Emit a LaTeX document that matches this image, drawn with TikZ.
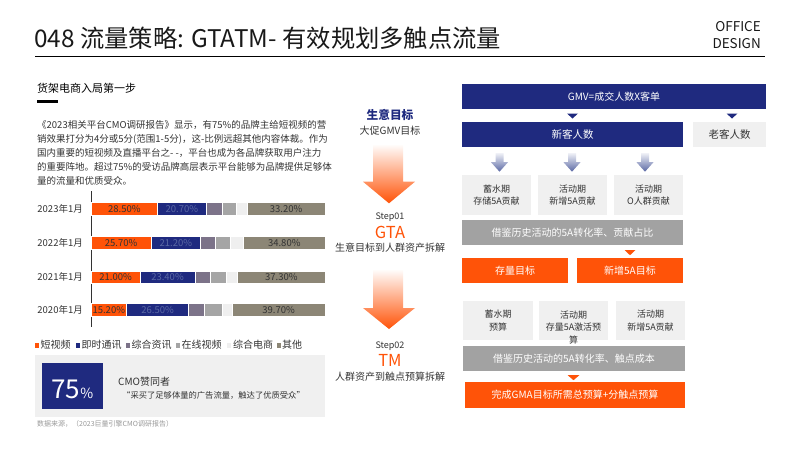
\documentclass[tikz,border=0pt]{standalone}
\usepackage{fontspec}
\setmainfont{Noto Sans CJK SC}
\usetikzlibrary{positioning}
\usetikzlibrary{calc}

\definecolor{gtnavy}{HTML}{1F2A7F}
\definecolor{gtorange}{HTML}{FF5308}
\definecolor{boxgray}{HTML}{F0F0F0}
\definecolor{bargray}{HTML}{A2A2A2}
\definecolor{zhgray}{HTML}{7C7389}
\definecolor{zxgray}{HTML}{A5A5A5}
\definecolor{dsgray}{HTML}{EFEFEF}
\definecolor{qtgray}{HTML}{8C8676}
\definecolor{slate}{HTML}{5A68A4}
\definecolor{inktext}{HTML}{333333}

\begin{document}
\begin{tikzpicture}[x=1pt, y=-1pt,
  navybox/.style={fill=gtnavy, text=white, inner sep=0, font=\fontsize{10}{12}\selectfont},
  graybox/.style={fill=boxgray, text=inktext, inner sep=0, align=center, font=\fontsize{9}{12.5}\selectfont},
  refbar/.style={fill=bargray, text=white, inner sep=0, font=\fontsize{10}{12}\selectfont},
  orangebox/.style={fill=gtorange, text=white, inner sep=0, font=\fontsize{10}{12}\selectfont},
  seg/.style={draw=white, line width=0.6pt},
  barlbl/.style={inner sep=0, text=black!80, font=\fontsize{9.5}{11}\selectfont},
  yearlbl/.style={anchor=east, inner sep=0, text=inktext, font=\fontsize{9.5}{11}\selectfont},
  leg/.style={anchor=west, inner sep=0, text=inktext, font=\fontsize{10}{12}\selectfont},
  midtxt/.style={inner sep=0, text=inktext, font=\fontsize{10}{12}\selectfont}]
\useasboundingbox (0,0) rectangle (800,450);

%title
\node[anchor=west, inner sep=0, font=\fontsize{24.3}{30}\selectfont, text=black!90] (title) at (34,38) {048 流量策略: GTATM- 有效规划多触点流量};
\node[anchor=east, align=right, inner sep=0, font=\fontsize{13.5}{16.5}\selectfont, text=black!90] (brand) at (761,35) {OFFICE\\DESIGN};
\draw[black, line width=1.5pt] (35,56.5) -- (765,56.5);

%left text
\node[anchor=west, inner sep=0, font=\fontsize{11}{13}\selectfont] (sect) at (37,88) {货架电商入局第一步};
\fill[black] (37,100) rectangle (58,102.5);
\node[anchor=north west, inner sep=0, align=left, text=inktext, font=\fontsize{9.5}{14}\selectfont] (para) at (37,120) {《2023相关平台CMO调研报告》显示，有75\%的品牌主给短视频的营\\销效果打分为4分或5分(范围1-5分)，这-比例远超其他内容体裁。作为\\国内重要的短视频及直播平台之-  -，平台也成为各品牌获取用户注力\\的重要阵地。超过75\%的受访品牌高层表示平台能够为品牌提供足够体\\量的流量和优质受众。};

%chart axis and years
\draw[black!80, line width=0.8pt] (91,191) -- (91,327);
\node[yearlbl] (y23) at (83,209) {2023年1月};
\node[yearlbl] (y22) at (83,243) {2022年1月};
\node[yearlbl] (y21) at (83,277.3) {2021年1月};
\node[yearlbl] (y20) at (83,310) {2020年1月};

%bars
\begin{scope}[shift={(91,0)}, x=2.34pt]
%2023
\fill[gtorange, seg] (0,202.7) rectangle (28.5,215.3);
\fill[gtnavy, seg] (28.5,202.7) rectangle (49.2,215.3);
\fill[zhgray, seg] (49.2,202.7) rectangle (56,215.3);
\fill[zxgray, seg] (56,202.7) rectangle (62.3,215.3);
\fill[dsgray, seg] (62.3,202.7) rectangle (66.8,215.3);
\fill[qtgray, seg] (66.8,202.7) rectangle (100,215.3);
\node[barlbl] (o23) at (14.25,209) {28.50\%};
\node[barlbl, text=slate] (n23) at (38.85,209) {20.70\%};
\node[barlbl] (k23) at (83.4,209) {33.20\%};
%2022
\fill[gtorange, seg] (0,236.7) rectangle (25.7,249.3);
\fill[gtnavy, seg] (25.7,236.7) rectangle (46.9,249.3);
\fill[zhgray, seg] (46.9,236.7) rectangle (53.3,249.3);
\fill[zxgray, seg] (53.3,236.7) rectangle (59.7,249.3);
\fill[dsgray, seg] (59.7,236.7) rectangle (65.2,249.3);
\fill[qtgray, seg] (65.2,236.7) rectangle (100,249.3);
\node[barlbl] (o22) at (12.85,243) {25.70\%};
\node[barlbl, text=slate] (n22) at (36.3,243) {21.20\%};
\node[barlbl] (k22) at (82.6,243) {34.80\%};
%2021
\fill[gtorange, seg] (0,271) rectangle (21,283.6);
\fill[gtnavy, seg] (21,271) rectangle (44.4,283.6);
\fill[zhgray, seg] (44.4,271) rectangle (51,283.6);
\fill[zxgray, seg] (51,271) rectangle (57.7,283.6);
\fill[dsgray, seg] (57.7,271) rectangle (62.7,283.6);
\fill[qtgray, seg] (62.7,271) rectangle (100,283.6);
\node[barlbl] (o21) at (10.5,277.3) {21.00\%};
\node[barlbl, text=slate] (n21) at (32.7,277.3) {23.40\%};
\node[barlbl] (k21) at (81.35,277.3) {37.30\%};
%2020
\fill[gtorange, seg] (0,303.7) rectangle (15.2,316.3);
\fill[gtnavy, seg] (15.2,303.7) rectangle (41.7,316.3);
\fill[zhgray, seg] (41.7,303.7) rectangle (48.5,316.3);
\fill[zxgray, seg] (48.5,303.7) rectangle (56.2,316.3);
\fill[dsgray, seg] (56.2,303.7) rectangle (60.3,316.3);
\fill[qtgray, seg] (60.3,303.7) rectangle (100,316.3);
\node[barlbl] (o20) at (7.6,310) {15.20\%};
\node[barlbl, text=slate] (n20) at (28.45,310) {26.50\%};
\node[barlbl] (k20) at (80.2,310) {39.70\%};
\end{scope}

%legend
\fill[gtorange] (35,343) rectangle (39,347.5);
\node[leg] (l1) at (40.5,345) {短视频};
\fill[gtnavy] (76,343) rectangle (80,347.5);
\node[leg] (l2) at (81.5,345) {即时通讯};
\fill[zhgray] (126,343) rectangle (130,347.5);
\node[leg] (l3) at (131.5,345) {综合资讯};
\fill[zxgray] (176,343) rectangle (180,347.5);
\node[leg] (l4) at (181.5,345) {在线视频};
\fill[dsgray] (227,343) rectangle (231,347.5);
\node[leg] (l5) at (233,345) {综合电商};
\fill[qtgray] (277,343) rectangle (281,347.5);
\node[leg] (l6) at (282,345) {其他};

%cmo quote
\node[fill=boxgray, minimum width=290pt, minimum height=62pt, inner sep=0] (cmobox) at (180,386) {};
\node[fill=gtnavy, minimum width=60.5pt, minimum height=46.5pt, inner sep=0] (pct) at (72.5,386) {};
\node[anchor=base, inner sep=0, text=white] (pcttxt) at (72.3,398.5) {\fontsize{26}{28}\selectfont 75\fontsize{14}{16}\selectfont\%};
\node[anchor=west, inner sep=0, text=inktext, font=\fontsize{10}{12}\selectfont] (cmo) at (118,381.5) {CMO赞同者};
\node[anchor=west, inner sep=0, text=inktext, font=\fontsize{8.3}{10}\selectfont] (quote) at (122,395) {“采买了足够体量的广告流量，触达了优质受众”};
\node[anchor=west, inner sep=0, text=black!40, font=\fontsize{7}{8}\selectfont] (src) at (37,424) {数据来源，（2023巨量引擎CMO调研报告）};

%middle column
\node[inner sep=0, text=gtnavy, font=\fontsize{11.7}{14}\selectfont\bfseries] (goal) at (390,115) {生意目标};
\node[midtxt] (goalsub) at (390,131) {大促GMV目标};
\shade[top color=gtorange!2, bottom color=gtorange] (373,145) -- (403,145) -- (403,181.7) -- (415,181.7) -- (389,203.3) -- (363,181.7) -- (373,181.7) -- cycle;
\node[midtxt, font=\fontsize{9}{11}\selectfont] (step1) at (390,217) {Step01};
\node[inner sep=0, text=gtorange, font=\fontsize{16.5}{18}\selectfont] (gta) at (390,232) {GTA};
\node[midtxt] (gtadesc) at (390,248) {生意目标到人群资产拆解};
\shade[top color=gtorange!2, bottom color=gtorange] (373,270) -- (403,270) -- (403,308) -- (415,308) -- (389,329) -- (363,308) -- (373,308) -- cycle;
\node[midtxt, font=\fontsize{9}{11}\selectfont] (step2) at (390,346) {Step02};
\node[inner sep=0, text=gtorange, font=\fontsize{16.5}{18}\selectfont] (tm) at (390,360) {TM};
\node[midtxt] (tmdesc) at (390,377) {人群资产到触点预算拆解};

%right column
\node[navybox, minimum width=304pt, minimum height=25pt] (gmv) at (614,96.5) {GMV=成交人数X客单};
\node[navybox, minimum width=221pt, minimum height=25pt, font=\fontsize{10.5}{12}\selectfont] (newc) at (572.5,134.5) {新客人数};
\node[graybox, minimum width=73pt, minimum height=25pt, font=\fontsize{10.5}{12}\selectfont] (oldc) at (729.5,134.5) {老客人数};
\coordinate (tn) at (newc.north |- gmv.south);
\coordinate (to) at (oldc.north |- gmv.south);
\fill[gtnavy] ($(tn)+(-5.5,4.3)$) -- ++(11,0) -- ++(-5.5,5) -- cycle;
\fill[gtnavy] ($(to)+(-3,4.3)$) -- ++(11,0) -- ++(-5.5,5) -- cycle;

%stock boxes
\node[graybox, minimum width=69pt, minimum height=40pt] (sto1) at (496.5,195) {蓄水期\\存储5A贡献};
\node[graybox, minimum width=69pt, minimum height=40pt] (sto2) at (572.5,195) {活动期\\新增5A贡献};
\node[graybox, minimum width=69pt, minimum height=40pt] (sto3) at (648.5,195) {活动期\\O人群贡献};
\coordinate (d1) at (sto1.north |- newc.south);
\coordinate (d2) at (sto2.north |- newc.south);
\coordinate (d3) at (sto3.north |- newc.south);
\shade[top color=slate!10, bottom color=slate] ($(d1)+(-1,6)$) -- ++(8,0) -- ++(0,9) -- ++(4.5,0) -- ++(-8.5,9.5) -- ++(-8.5,-9.5) -- ++(4.5,0) -- cycle;
\shade[top color=slate!10, bottom color=slate] ($(d2)+(-4.5,6)$) -- ++(8,0) -- ++(0,9) -- ++(4.5,0) -- ++(-8.5,9.5) -- ++(-8.5,-9.5) -- ++(4.5,0) -- cycle;
\shade[top color=slate!10, bottom color=slate] ($(d3)+(-7.5,6)$) -- ++(8,0) -- ++(0,9) -- ++(4.5,0) -- ++(-8.5,9.5) -- ++(-8.5,-9.5) -- ++(4.5,0) -- cycle;

%targets
\node[refbar, minimum width=221pt, minimum height=25pt] (ref1) at (572.5,232.5) {借鉴历史活动的5A转化率、贡献占比};
\node[orangebox, minimum width=106pt, minimum height=25pt] (tgt1) at (515,270.5) {存量目标};
\node[orangebox, minimum width=106pt, minimum height=25pt] (tgt2) at (630,270.5) {新增5A目标};
\coordinate (tg) at (tgt2.north |- ref1.south);
\fill[gtorange] ($(tg)+(-5.3,5)$) -- ++(10.6,0) -- ++(-5.3,5) -- cycle;

%budgets
\node[graybox, minimum width=70pt, minimum height=39pt] (bud1) at (498,320.5) {蓄水期\\预算};
\node[graybox, minimum width=69pt, minimum height=39pt] (bud2) at (573.5,320.5) {};
\node[graybox, fill=none, anchor=north] (bud2txt) at (573.5,310.5) {活动期\\存量5A激活预\\算};
\node[graybox, minimum width=69pt, minimum height=39pt] (bud3) at (650.5,320.5) {活动期\\新增5A贡献};
\node[refbar, minimum width=222pt, minimum height=25pt] (ref2) at (574,358.5) {借鉴历史活动的5A转化率、触点成本};
\coordinate (tt) at (bud2.south |- ref2.south);
\fill[gtorange] ($(tt)+(-5.8,4)$) -- ++(11.6,0) -- ++(-5.8,5) -- cycle;
\node[orangebox, minimum width=220pt, minimum height=26pt] (total) at (575,395) {完成GMA目标所需总预算+分触点预算};

\end{tikzpicture}
\end{document}
